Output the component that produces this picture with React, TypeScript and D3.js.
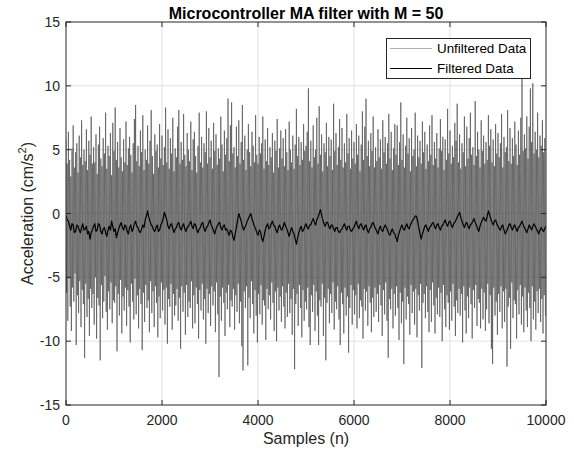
import React from "react";
import * as d3 from "d3";

const xTicks = [0, 2000, 4000, 6000, 8000, 10000];
const yTicks = [-15, -10, -5, 0, 5, 10, 15];

// Upper excursions of the unfiltered signal (one every 25 samples, starting at 0)
const unfilteredPeaks = [
  5.8, 3.9, 6.4, 4.2, 2.9, 5.1, 6.9, 3.6, 4.8, 5.5, 3.2, 6.1, 4.4, 7.3, 3.8, 5.0, 4.1, 6.6, 3.4, 5.7,
  4.6, 7.6, 3.9, 5.2, 4.0, 6.2, 3.1, 5.4, 6.8, 4.3, 3.7, 5.9, 4.7, 7.9, 3.5, 5.3, 4.5, 6.3, 3.0, 7.1,
  4.9, 8.3, 4.2, 5.6, 3.6, 6.7, 4.4, 3.3, 5.8, 4.0, 7.2, 3.8, 5.1, 6.0, 4.6, 3.2, 5.5, 7.4, 8.5, 4.1,
  5.3, 3.7, 6.5, 4.8, 7.7, 3.4, 5.0, 4.2, 6.9, 3.9, 5.7, 8.1, 4.5, 3.1, 6.2, 4.9, 5.4, 3.6, 7.0, 4.3,
  6.1, 3.8, 5.2, 8.3, 4.0, 6.6, 3.5, 5.9, 4.7, 7.5, 3.3, 5.1, 4.4, 6.8, 8.1, 3.9, 5.6, 4.2, 7.8, 4.6,
  3.7, 6.3, 5.0, 4.1, 7.2, 3.4, 5.8, 6.4, 4.5, 3.2, 5.3, 7.9, 4.0, 6.0, 3.6, 5.5, 4.8, 8.0, 3.9, 6.7,
  4.4, 5.7, 3.5, 7.1, 4.9, 6.2, 3.8, 5.1, 4.3, 7.6, 5.4, 3.3, 6.5, 4.6, 5.9, 9.0, 4.1, 6.9, 8.7, 4.7,
  5.2, 3.6, 6.8, 4.5, 7.3, 3.9, 5.6, 8.5, 4.2, 6.1, 3.4, 5.0, 7.0, 4.8, 3.7, 6.4, 5.3, 4.0, 7.7, 4.6,
  3.9, 6.0, 4.7, 5.5, 7.6, 3.5, 5.8, 4.1, 6.7, 3.8, 5.2, 4.4, 6.3, 3.2, 5.7, 4.9, 7.4, 3.6, 5.1, 6.5,
  4.3, 5.9, 3.7, 6.6, 4.8, 3.4, 7.2, 5.0, 4.0, 6.1, 3.5, 5.4, 8.2, 4.5, 6.0, 3.8, 5.6, 4.2, 7.0, 4.9,
  5.3, 6.4, 9.8, 4.1, 5.7, 3.6, 6.9, 4.4, 5.0, 7.5, 3.9, 8.4, 4.6, 6.2, 3.3, 5.5, 4.8, 7.1, 3.7, 6.0,
  4.5, 5.8, 3.4, 8.6, 4.9, 6.3, 3.8, 5.2, 7.4, 4.2, 6.7, 3.6, 5.5, 4.0, 7.8, 4.7, 5.9, 3.5, 6.5, 4.3,
  5.6, 3.9, 7.0, 4.6, 6.1, 3.3, 5.4, 8.0, 4.2, 6.8, 9.0, 4.5, 5.7, 3.7, 6.3, 4.9, 7.6, 3.6, 5.2, 4.1,
  6.6, 4.4, 5.8, 3.5, 7.3, 4.8, 6.0, 3.9, 5.5, 7.8, 4.3, 6.4, 3.4, 5.1, 7.0, 4.6, 6.9, 3.8, 5.6, 8.7,
  4.2, 6.2, 3.6, 5.3, 7.5, 4.7, 5.9, 3.3, 6.7, 4.5, 5.0, 7.9, 3.7, 6.1, 4.4, 5.7, 3.9, 7.2, 4.8, 6.4,
  3.5, 5.4, 4.1, 6.9, 4.6, 7.7, 3.8, 5.6, 4.3, 6.3, 3.6, 5.1, 7.4, 4.9, 6.0, 3.4, 5.8, 4.2, 8.2, 4.7,
  6.5, 3.9, 5.3, 4.4, 7.1, 5.7, 8.6, 4.0, 6.2, 3.5, 5.5, 4.8, 7.6, 3.7, 6.8, 4.3, 5.9, 7.9, 4.6, 5.2,
  3.8, 8.8, 4.5, 6.4, 5.0, 3.6, 7.3, 4.9, 6.1, 3.9, 5.6, 4.2, 7.7, 5.3, 6.6, 4.0, 5.8, 3.7, 7.0, 4.7,
  6.3, 4.4, 5.5, 7.8, 3.6, 6.0, 4.8, 5.2, 8.1, 4.1, 6.7, 3.9, 5.9, 4.5, 7.2, 5.4, 3.8, 6.5, 4.6, 7.5,
  10.8, 4.9, 6.2, 5.1, 7.6, 4.3, 6.8, 9.8, 5.6, 10.2, 4.7, 6.4, 5.0, 7.9, 4.4, 6.1, 5.3, 7.3, 4.8, 5.9,
];

// Lower excursions of the unfiltered signal (one every 25 samples, starting at 12.5)
const unfilteredTroughs = [
  -6.2, -8.4, -5.1, -7.3, -9.2, -5.8, -6.9, -4.7, -10.3, -6.4, -7.8, -5.3, -8.9, -6.0, -7.1, -11.3, -5.5, -8.1, -6.7, -9.6,
  -5.9, -7.4, -6.3, -8.7, -5.0, -9.8, -6.6, -7.2, -11.5, -5.6, -8.2, -6.9, -4.9, -7.7, -9.1, -6.1, -7.5, -5.4, -8.6, -6.8,
  -7.0, -5.7, -10.8, -6.3, -8.0, -5.2, -9.4, -6.5, -7.6, -5.8, -8.8, -6.0, -7.3, -10.1, -5.5, -6.9, -8.3, -5.1, -7.9, -6.4,
  -9.0, -5.9, -7.1, -10.7, -6.2, -8.5, -5.6, -7.4, -6.8, -9.3, -5.3, -7.8, -6.1, -8.9, -5.7, -7.0, -9.7, -6.5, -8.2, -5.4,
  -7.6, -6.0, -8.7, -5.8, -10.2, -6.7, -7.3, -5.5, -9.1, -6.3, -8.0, -7.2, -5.9, -8.4, -6.6, -10.6, -5.7, -7.7, -6.2, -9.5,
  -5.6, -8.1, -6.9, -7.4, -5.3, -9.0, -6.4, -8.6, -5.8, -7.1, -9.8, -6.0, -7.6, -5.5, -8.3, -6.7, -10.2, -5.9, -7.8, -6.3,
  -8.8, -5.7, -7.2, -6.1, -9.3, -5.4, -7.9, -12.8, -6.5, -8.4, -5.8, -7.0, -9.6, -6.2, -7.5, -5.6, -8.9, -6.8, -7.3, -5.9,
  -9.1, -6.4, -7.7, -5.5, -8.6, -6.9, -10.4, -12.3, -6.1, -7.4, -5.7, -11.9, -6.6, -8.2, -5.3, -7.1, -9.4, -6.0, -8.0, -10.1,
  -6.3, -7.9, -5.6, -8.7, -6.8, -7.2, -9.9, -5.9, -7.5, -6.4, -8.3, -5.4, -7.0, -9.2, -6.1, -10.0, -5.8, -7.6, -6.5, -8.5,
  -5.7, -7.3, -9.0, -6.2, -8.1, -5.5, -7.8, -6.7, -9.5, -5.9, -12.2, -7.1, -6.3, -8.8, -5.6, -7.4, -9.7, -6.0, -8.4, -6.9,
  -7.5, -5.8, -8.9, -10.3, -6.4, -7.7, -5.6, -9.2, -6.1, -8.0, -10.3, -6.8, -7.3, -5.5, -9.6, -6.6, -11.5, -7.0, -5.9, -8.6,
  -6.3, -7.8, -5.4, -9.1, -6.9, -7.5, -5.7, -8.3, -10.3, -6.2, -7.1, -9.4, -5.8, -8.0, -6.5, -10.9, -7.4, -5.6, -8.7, -6.0,
  -7.9, -6.4, -9.0, -5.5, -8.2, -6.8, -7.3, -9.8, -5.9, -7.6, -6.1, -8.8, -5.7, -7.0, -9.3, -6.6, -8.1, -5.8, -7.7, -6.3,
  -8.5, -5.6, -7.2, -9.6, -6.0, -7.9, -5.4, -8.4, -11.3, -6.7, -7.5, -5.9, -9.0, -6.3, -8.0, -5.7, -7.4, -9.9, -6.2, -8.6,
  -6.9, -11.8, -5.8, -8.3, -6.5, -7.1, -9.5, -5.6, -7.8, -6.1, -8.7, -5.9, -9.7, -6.4, -7.6, -5.5, -12.1, -7.0, -6.3, -8.2,
  -5.7, -7.7, -9.3, -6.0, -8.5, -5.4, -7.2, -9.4, -6.6, -7.9, -5.8, -8.1, -6.2, -10.0, -5.6, -7.5, -8.9, -6.4, -7.0, -9.1,
  -6.1, -8.4, -5.5, -7.3, -9.6, -6.8, -7.8, -5.9, -8.0, -6.3, -10.1, -5.7, -7.6, -9.4, -6.5, -8.2, -5.8, -7.1, -9.8, -6.0,
  -7.4, -5.6, -8.8, -6.7, -7.0, -9.0, -5.9, -8.3, -6.2, -9.2, -7.5, -5.5, -8.6, -6.4, -10.6, -11.8, -5.8, -8.0, -6.9, -9.5,
  -6.3, -7.7, -5.7, -9.0, -6.1, -8.5, -5.9, -12.0, -7.3, -6.6, -10.6, -5.4, -8.2, -6.8, -7.1, -9.8, -6.0, -7.9, -5.6, -8.7,
  -6.5, -9.3, -5.8, -7.6, -8.9, -6.2, -7.4, -10.0, -5.7, -8.3, -6.9, -9.1, -6.1, -7.8, -5.9, -8.5, -6.7, -9.4, -6.4, -8.0,
];

// Filtered (moving-average) output, one value every 25 samples
const filtered = [
  -0.2, -0.5, -0.6, -1.0, -1.3, -0.8, -0.9, -1.5, -1.4, -0.9, -1.0, -1.3, -1.5, -1.1, -0.8, -1.3, -1.2, -1.0, -1.6, -1.4,
  -2.0, -1.5, -1.3, -1.0, -0.8, -1.4, -1.3, -0.8, -0.9, -1.4, -1.6, -1.2, -1.1, -1.5, -1.8, -1.3, -1.0, -1.3, -0.6, -1.0,
  -1.4, -1.2, -1.9, -1.5, -1.2, -0.9, -0.7, -1.1, -1.3, -0.9, -1.0, -1.4, -1.6, -1.1, -0.9, -1.4, -1.2, -0.8, -0.6, -1.0,
  -1.1, -1.4, -1.5, -1.2, -0.9, -1.1, -0.5, -0.2, 0.2, -0.3, -0.6, -0.9, -1.0, -1.3, -1.4, -1.1, -0.9, -1.4, -1.3, -0.9,
  -0.7, -0.4, 0.1, -0.2, -0.5, -1.0, -1.2, -0.9, -0.8, -1.2, -1.5, -1.2, -1.1, -0.8, -0.7, -1.1, -1.3, -1.0, -0.8, -1.2,
  -1.4, -1.1, -1.0, -0.8, -0.6, -1.0, -1.2, -0.8, -0.9, -1.3, -1.5, -1.2, -1.1, -0.8, -0.7, -1.2, -1.4, -1.1, -1.0, -0.7,
  -0.5, -0.9, -1.1, -1.4, -1.6, -1.2, -1.0, -0.8, -0.7, -1.1, -1.3, -1.0, -0.9, -1.3, -1.2, -1.5, -1.7, -1.3, -1.4, -1.8,
  -2.1, -1.6, -1.1, -0.5, 0.0, -0.3, -0.6, -1.0, -1.3, -1.1, -0.9, -0.6, -0.4, -0.2, 0.0, -0.4, -0.7, -1.0, -1.2, -1.5,
  -1.7, -1.3, -1.4, -1.9, -2.2, -1.8, -1.3, -1.0, -0.8, -1.2, -1.1, -0.8, -0.6, -0.9, -1.0, -1.3, -1.5, -1.1, -0.9, -1.2,
  -1.3, -1.0, -0.7, -1.0, -1.2, -1.5, -1.8, -1.4, -1.1, -1.4, -1.6, -2.0, -2.4, -1.9, -1.5, -1.2, -1.0, -1.4, -1.3, -1.0,
  -0.8, -1.1, -1.2, -0.9, -0.9, -0.6, -0.4, -0.7, -0.9, -0.5, -0.3, 0.0, 0.3, -0.1, -0.5, -0.8, -1.0, -0.7, -0.7, -1.0,
  -1.2, -0.9, -0.9, -1.2, -1.4, -1.1, -1.1, -1.4, -1.5, -1.3, -1.2, -1.0, -0.8, -1.1, -1.3, -1.0, -1.0, -1.3, -1.4, -1.2,
  -1.1, -0.8, -0.6, -1.0, -1.2, -0.9, -0.8, -1.1, -1.3, -1.0, -0.9, -1.3, -1.5, -1.2, -1.1, -0.8, -0.7, -1.0, -1.2, -1.4,
  -1.6, -1.2, -1.0, -1.3, -1.4, -1.1, -0.9, -1.1, -1.3, -1.6, -1.7, -1.4, -1.2, -1.5, -1.6, -1.9, -2.2, -1.7, -1.4, -1.1,
  -0.9, -1.2, -1.3, -1.0, -0.8, -1.1, -1.2, -0.9, -0.7, -0.5, -0.4, -0.2, -0.2, -0.6, -1.1, -1.6, -2.0, -1.6, -1.3, -1.0,
  -0.9, -1.2, -1.4, -1.1, -1.0, -0.8, -0.7, -1.0, -1.2, -0.9, -0.8, -1.1, -1.3, -1.0, -0.9, -0.7, -0.5, -0.8, -1.0, -0.7,
  -0.6, -0.9, -1.1, -0.8, -0.7, -0.5, -0.3, -0.1, 0.1, -0.3, -0.6, -0.9, -1.1, -0.8, -0.7, -1.0, -1.2, -0.9, -0.8, -0.6,
  -0.4, -0.7, -0.9, -1.2, -1.4, -1.0, -0.7, -0.5, -0.3, -0.5, -0.6, -0.2, 0.2, -0.1, -0.4, -0.7, -0.9, -0.6, -0.5, -0.8,
  -1.0, -1.2, -1.3, -1.0, -0.9, -1.3, -1.6, -1.4, -1.2, -0.9, -0.8, -1.1, -1.3, -1.0, -0.9, -1.2, -1.4, -1.1, -1.0, -0.8,
  -0.6, -0.9, -1.1, -1.3, -1.5, -1.2, -0.9, -1.1, -1.3, -1.0, -0.8, -1.0, -1.2, -1.4, -1.6, -1.3, -1.1, -1.3, -1.4, -1.2,
  -1.0,
];

const W = 574;
const H = 450;
const M = { left: 66, right: 546, top: 22, bottom: 405 };
const AX = "#262626";
const FONT = "Liberation Sans, Arial, Helvetica, sans-serif";

export default function App() {
  const x = d3.scaleLinear().domain([0, 10000]).range([M.left, M.right]);
  const y = d3.scaleLinear().domain([-15, 15]).range([M.bottom, M.top]);

  const raw: [number, number][] = [];
  unfilteredPeaks.forEach((v, k) => {
    raw.push([k * 25, v]);
    raw.push([k * 25 + 12.5, unfilteredTroughs[k]]);
  });
  const filt: [number, number][] = filtered.map((v, i) => [i * 25, v]);

  const line = d3
    .line<[number, number]>()
    .x((d) => x(d[0]))
    .y((d) => y(d[1]));

  const tickLen = 5;

  return (
    <svg
      width={W}
      height={H}
      style={{ position: "absolute", left: 0, top: 0, background: "#fff" }}
      fontFamily={FONT}
    >
      <rect x={0} y={0} width={W} height={H} fill="#fff" />
      <g stroke="#e3e3e3" strokeWidth={1}>
        {xTicks.slice(1, -1).map((t) => (
          <line key={"gx" + t} x1={x(t)} x2={x(t)} y1={M.top} y2={M.bottom} />
        ))}
        {yTicks.slice(1, -1).map((t) => (
          <line key={"gy" + t} x1={M.left} x2={M.right} y1={y(t)} y2={y(t)} />
        ))}
      </g>
      <defs>
        <clipPath id="plotclip">
          <rect x={M.left} y={M.top} width={M.right - M.left} height={M.bottom - M.top} />
        </clipPath>
      </defs>
      <g clipPath="url(#plotclip)">
        <path d={line(raw) || ""} fill="none" stroke="#4a4a4a" strokeWidth={0.65} />
        <path d={line(filt) || ""} fill="none" stroke="#000" strokeWidth={1.2} strokeLinejoin="round" />
      </g>
      <rect
        x={M.left}
        y={M.top}
        width={M.right - M.left}
        height={M.bottom - M.top}
        fill="none"
        stroke={AX}
        strokeWidth={1}
      />
      <g stroke={AX} strokeWidth={1}>
        {xTicks.map((t) => (
          <g key={"tx" + t}>
            <line x1={x(t)} x2={x(t)} y1={M.bottom} y2={M.bottom - tickLen} />
            <line x1={x(t)} x2={x(t)} y1={M.top} y2={M.top + tickLen} />
          </g>
        ))}
        {yTicks.map((t) => (
          <g key={"ty" + t}>
            <line x1={M.left} x2={M.left + tickLen} y1={y(t)} y2={y(t)} />
            <line x1={M.right} x2={M.right - tickLen} y1={y(t)} y2={y(t)} />
          </g>
        ))}
      </g>
      <g fill={AX} fontSize={14}>
        {xTicks.map((t) => (
          <text key={"lx" + t} x={x(t)} y={M.bottom + 20} textAnchor="middle">
            {t}
          </text>
        ))}
        {yTicks.map((t) => (
          <text key={"ly" + t} x={M.left - 6} y={y(t) + 5} textAnchor="end">
            {t}
          </text>
        ))}
      </g>
      <text x={(M.left + M.right) / 2} y={444} textAnchor="middle" fontSize={16} fill={AX}>
        Samples (n)
      </text>
      <text
        transform={`translate(33, ${(M.top + M.bottom) / 2}) rotate(-90)`}
        textAnchor="middle"
        fontSize={16}
        fill={AX}
      >
        Acceleration (cm/s
        <tspan fontSize={11} dy={-7}>
          2
        </tspan>
        <tspan dy={7}>)</tspan>
      </text>
      <text
        x={(M.left + M.right) / 2}
        y={19}
        textAnchor="middle"
        fontSize={16}
        fontWeight="bold"
        fill="#000"
      >
        Microcontroller MA filter with M = 50
      </text>
      <g>
        <rect x={386.5} y={38.5} width={144} height={40} fill="#fff" stroke={AX} strokeWidth={1} />
        <line x1={390} x2={432} y1={48.5} y2={48.5} stroke="#9a9a9a" strokeWidth={0.8} />
        <line x1={390} x2={432} y1={68.5} y2={68.5} stroke="#000" strokeWidth={1} />
        <text x={437} y={53} fontSize={13.4} fill="#000">
          Unfiltered Data
        </text>
        <text x={437} y={73} fontSize={13.4} fill="#000">
          Filtered Data
        </text>
      </g>
    </svg>
  );
}
